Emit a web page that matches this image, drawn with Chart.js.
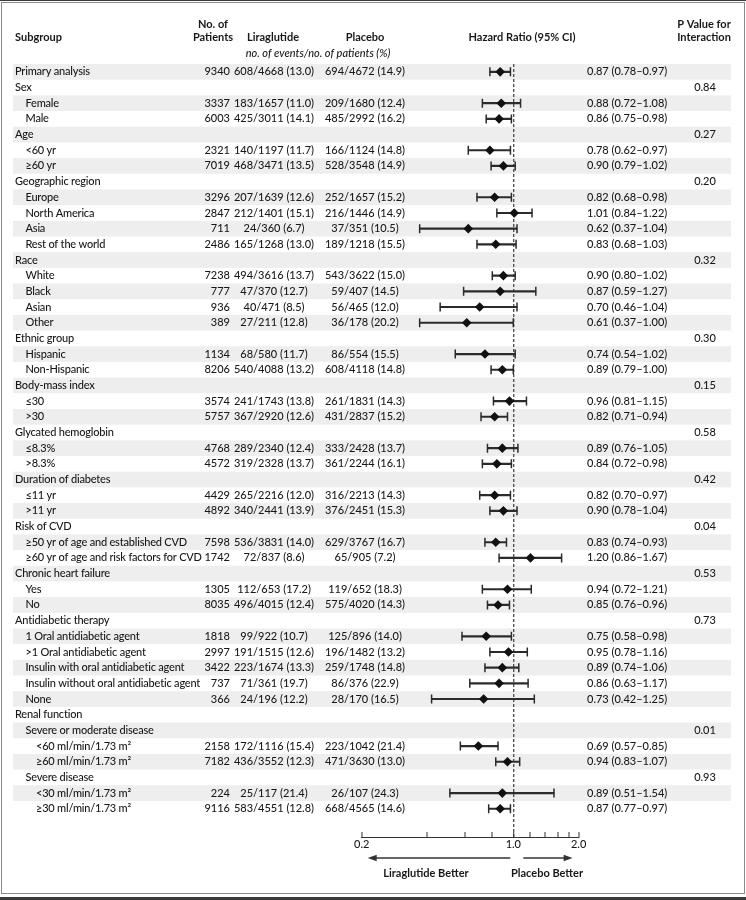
<!DOCTYPE html>
<html>
<head>
<meta charset="utf-8">
<title>Liraglutide vs placebo: subgroup hazard ratios</title>
<script src="https://cdn.jsdelivr.net/npm/chart.js@4.4.1/dist/chart.umd.min.js"></script>
<style>
  html, body { margin: 0; padding: 0; background: #fff; }
  canvas { display: block; }
</style>
</head>
<body>
<canvas id="forest" width="746" height="900"></canvas>
<script>
// rows of the table, top to bottom
const subgroups = [
  "Primary analysis", "Sex", "Female", "Male", "Age", "<60 yr", "≥60 yr",
  "Geographic region", "Europe", "North America", "Asia", "Rest of the world",
  "Race", "White", "Black", "Asian", "Other",
  "Ethnic group", "Hispanic", "Non-Hispanic",
  "Body-mass index", "≤30", ">30",
  "Glycated hemoglobin", "≤8.3%", ">8.3%",
  "Duration of diabetes", "≤11 yr", ">11 yr",
  "Risk of CVD", "≥50 yr of age and established CVD", "≥60 yr of age and risk factors for CVD",
  "Chronic heart failure", "Yes", "No",
  "Antidiabetic therapy", "1 Oral antidiabetic agent", ">1 Oral antidiabetic agent",
  "Insulin with oral antidiabetic agent", "Insulin without oral antidiabetic agent", "None",
  "Renal function", "Severe or moderate disease", "<60 ml/min/1.73 m²", "≥60 ml/min/1.73 m²",
  "Severe disease", "<30 ml/min/1.73 m²", "≥30 ml/min/1.73 m²"
];
const levels = [0, 0, 1, 1, 0, 1, 1, 0, 1, 1, 1, 1, 0, 1, 1, 1, 1, 0, 1, 1, 0, 1, 1, 0, 1, 1,
  0, 1, 1, 0, 1, 1, 0, 1, 1, 0, 1, 1, 1, 1, 1, 0, 1, 2, 2, 1, 2, 2];

const patients = [9340, null, 3337, 6003, null, 2321, 7019, null, 3296, 2847, 711, 2486, null,
  7238, 777, 936, 389, null, 1134, 8206, null, 3574, 5757, null, 4768, 4572, null, 4429, 4892,
  null, 7598, 1742, null, 1305, 8035, null, 1818, 2997, 3422, 737, 366, null, null, 2158, 7182,
  null, 224, 9116];

const liraEvents = [608, null, 183, 425, null, 140, 468, null, 207, 212, 24, 165, null, 494, 47,
  40, 27, null, 68, 540, null, 241, 367, null, 289, 319, null, 265, 340, null, 536, 72, null, 112,
  496, null, 99, 191, 223, 71, 24, null, null, 172, 436, null, 25, 583];
const liraTotal = [4668, null, 1657, 3011, null, 1197, 3471, null, 1639, 1401, 360, 1268, null,
  3616, 370, 471, 211, null, 580, 4088, null, 1743, 2920, null, 2340, 2328, null, 2216, 2441, null,
  3831, 837, null, 653, 4015, null, 922, 1515, 1674, 361, 196, null, null, 1116, 3552, null, 117, 4551];
const liraPct = [13.0, null, 11.0, 14.1, null, 11.7, 13.5, null, 12.6, 15.1, 6.7, 13.0, null, 13.7,
  12.7, 8.5, 12.8, null, 11.7, 13.2, null, 13.8, 12.6, null, 12.4, 13.7, null, 12.0, 13.9, null,
  14.0, 8.6, null, 17.2, 12.4, null, 10.7, 12.6, 13.3, 19.7, 12.2, null, null, 15.4, 12.3, null, 21.4, 12.8];

const placEvents = [694, null, 209, 485, null, 166, 528, null, 252, 216, 37, 189, null, 543, 59,
  56, 36, null, 86, 608, null, 261, 431, null, 333, 361, null, 316, 376, null, 629, 65, null, 119,
  575, null, 125, 196, 259, 86, 28, null, null, 223, 471, null, 26, 668];
const placTotal = [4672, null, 1680, 2992, null, 1124, 3548, null, 1657, 1446, 351, 1218, null,
  3622, 407, 465, 178, null, 554, 4118, null, 1831, 2837, null, 2428, 2244, null, 2213, 2451, null,
  3767, 905, null, 652, 4020, null, 896, 1482, 1748, 376, 170, null, null, 1042, 3630, null, 107, 4565];
const placPct = [14.9, null, 12.4, 16.2, null, 14.8, 14.9, null, 15.2, 14.9, 10.5, 15.5, null, 15.0,
  14.5, 12.0, 20.2, null, 15.5, 14.8, null, 14.3, 15.2, null, 13.7, 16.1, null, 14.3, 15.3, null,
  16.7, 7.2, null, 18.3, 14.3, null, 14.0, 13.2, 14.8, 22.9, 16.5, null, null, 21.4, 13.0, null, 24.3, 14.6];

const hazardRatio = [0.87, null, 0.88, 0.86, null, 0.78, 0.90, null, 0.82, 1.01, 0.62, 0.83, null,
  0.90, 0.87, 0.70, 0.61, null, 0.74, 0.89, null, 0.96, 0.82, null, 0.89, 0.84, null, 0.82, 0.90,
  null, 0.83, 1.20, null, 0.94, 0.85, null, 0.75, 0.95, 0.89, 0.86, 0.73, null, null, 0.69, 0.94,
  null, 0.89, 0.87];
const ciLow = [0.78, null, 0.72, 0.75, null, 0.62, 0.79, null, 0.68, 0.84, 0.37, 0.68, null, 0.80,
  0.59, 0.46, 0.37, null, 0.54, 0.79, null, 0.81, 0.71, null, 0.76, 0.72, null, 0.70, 0.78, null,
  0.74, 0.86, null, 0.72, 0.76, null, 0.58, 0.78, 0.74, 0.63, 0.42, null, null, 0.57, 0.83, null, 0.51, 0.77];
const ciHigh = [0.97, null, 1.08, 0.98, null, 0.97, 1.02, null, 0.98, 1.22, 1.04, 1.03, null, 1.02,
  1.27, 1.04, 1.00, null, 1.02, 1.00, null, 1.15, 0.94, null, 1.05, 0.98, null, 0.97, 1.04, null,
  0.93, 1.67, null, 1.21, 0.96, null, 0.98, 1.16, 1.06, 1.17, 1.25, null, null, 0.85, 1.07, null, 1.54, 0.97];

const pInteraction = [null, 0.84, null, null, 0.27, null, null, 0.20, null, null, null, null, 0.32,
  null, null, null, null, 0.30, null, null, 0.15, null, null, 0.58, null, null, 0.42, null, null,
  0.04, null, null, 0.53, null, null, 0.73, null, null, null, null, null, null, 0.01, null, null,
  0.93, null, null];

const axisTicks = [0.2, 0.4, 0.6, 0.8, 1.0, 1.2, 1.4, 1.6, 1.8, 2.0];
const labeledTicks = [0.2, 1.0, 2.0];

const INK = "#1a1718";
const FONT = "Lato, 'Open Sans', sans-serif";

const rows = subgroups.map((_, i) => i);
const plotted = rows.filter((i) => hazardRatio[i] != null);

const counts = (e, n, p, i) => (e[i] == null ? "" : `${e[i]}/${n[i]} (${p[i].toFixed(1)})`);

function arrow(ctx, from, to, y) {
  const dir = Math.sign(to - from);
  ctx.beginPath();
  ctx.moveTo(from, y);
  ctx.lineTo(to - dir * 5, y);
  ctx.stroke();
  ctx.beginPath();
  ctx.moveTo(to, y);
  ctx.lineTo(to - dir * 9, y - 3.2);
  ctx.lineTo(to - dir * 9, y + 3.2);
  ctx.closePath();
  ctx.fill();
}

const tablePlugin = {
  id: "table",
  beforeDraw(chart) {
    const { ctx, scales: { y } } = chart;
    ctx.save();
    ctx.fillStyle = "#fff";
    ctx.fillRect(0, 0, chart.width, chart.height);
    ctx.fillStyle = "#eeeeee";
    rows.filter((i) => i % 2 === 0).forEach((i) => {
      const top = y.getPixelForValue(i - 0.5);
      const bottom = y.getPixelForValue(i + 0.5);
      ctx.fillRect(13, top, 718, bottom - top);
    });
    ctx.restore();
  },
  afterDraw(chart) {
    const { ctx, scales: { x, y } } = chart;
    ctx.save();
    ctx.fillStyle = INK;
    ctx.textBaseline = "middle";

    // header
    ctx.font = `bold 11px ${FONT}`;
    ctx.textAlign = "left";
    ctx.fillText("Subgroup", 15, 37);
    ctx.textAlign = "center";
    ctx.fillText("No. of", 213, 24);
    ctx.fillText("Patients", 213, 37);
    ctx.fillText("Liraglutide", 273, 37);
    ctx.fillText("Placebo", 365, 37);
    ctx.fillText("Hazard Ratio (95% CI)", 522, 37);
    ctx.fillText("P Value for", 704, 24);
    ctx.fillText("Interaction", 704, 37);
    ctx.font = `italic 500 11px ${FONT}`;
    ctx.fillText("no. of events/no. of patients (%)", 318, 53);

    // body
    ctx.font = `500 11px ${FONT}`;
    rows.forEach((i) => {
      const py = y.getPixelForValue(i);
      ctx.textAlign = "left";
      ctx.letterSpacing = "-0.2px";
      ctx.fillText(subgroups[i], 15 + levels[i] * 10.5, py);
      ctx.letterSpacing = "0px";
      if (patients[i] != null) {
        ctx.textAlign = "right";
        ctx.fillText(String(patients[i]), 230, py);
      }
      ctx.textAlign = "center";
      ctx.fillText(counts(liraEvents, liraTotal, liraPct, i), 274, py);
      ctx.fillText(counts(placEvents, placTotal, placPct, i), 365, py);
      if (hazardRatio[i] != null) {
        ctx.textAlign = "left";
        ctx.fillText(`${hazardRatio[i].toFixed(2)} (${ciLow[i].toFixed(2)}–${ciHigh[i].toFixed(2)})`, 587, py);
      }
      if (pInteraction[i] != null) {
        ctx.textAlign = "center";
        ctx.fillText(pInteraction[i].toFixed(2), 705, py);
      }
    });

    // direction arrows under the axis
    const x02 = x.getPixelForValue(0.2);
    const x1 = x.getPixelForValue(1);
    const x2 = x.getPixelForValue(2);
    ctx.strokeStyle = "#333";
    ctx.fillStyle = "#333";
    ctx.lineWidth = 1.3;
    arrow(ctx, x1 - 3, x02 + 6, 858);
    arrow(ctx, x1 + 10, x2 - 6, 858);
    ctx.fillStyle = INK;
    ctx.font = `bold 11px ${FONT}`;
    ctx.textAlign = "center";
    ctx.fillText("Liraglutide Better", 426, 873);
    ctx.fillText("Placebo Better", 547, 873);

    // frame
    ctx.strokeStyle = "#8c8c8c";
    ctx.lineWidth = 1;
    ctx.strokeRect(1.5, 2.5, 743, 891);
    ctx.fillStyle = "#3a3a3a";
    ctx.fillRect(0, 0, 746, 1);
    ctx.fillRect(0, 897, 746, 3);
    ctx.restore();
  }
};

new Chart(document.querySelector("#forest"), {
  type: "scatter",
  data: {
    datasets: [
      {
        type: "bar",
        indexAxis: "y",
        data: plotted.map((i) => ({ x: [ciLow[i], ciHigh[i]], y: i })),
        backgroundColor: "#2b2b2b",
        barThickness: 1.5,
        borderWidth: 0,
        order: 3
      },
      {
        data: plotted.flatMap((i) => [{ x: ciLow[i], y: i }, { x: ciHigh[i], y: i }]),
        pointStyle: "line",
        pointRotation: 90,
        pointRadius: 4.5,
        pointBorderColor: "#2b2b2b",
        pointBorderWidth: 1.5,
        order: 2
      },
      {
        data: plotted.map((i) => ({ x: hazardRatio[i], y: i })),
        pointStyle: "rectRot",
        pointRadius: 4.8,
        pointBackgroundColor: "#111",
        pointBorderWidth: 0,
        order: 1
      }
    ]
  },
  options: {
    responsive: false,
    animation: false,
    events: [],
    layout: { padding: { left: 361.7, right: 167.4, top: 64, bottom: 0 } },
    plugins: { legend: { display: false }, tooltip: { enabled: false } },
    scales: {
      x: {
        type: "logarithmic",
        min: 0.2,
        max: 2.0,
        afterBuildTicks: (scale) => { scale.ticks = axisTicks.map((value) => ({ value })); },
        afterFit: (scale) => { scale.height = 63; },
        ticks: {
          autoSkip: false,
          maxRotation: 0,
          padding: 6,
          color: INK,
          font: { family: FONT, size: 11, weight: "500" },
          callback: (value) => (labeledTicks.includes(value) ? value.toFixed(1) : "")
        },
        grid: {
          drawOnChartArea: true,
          drawTicks: true,
          tickLength: -5,
          tickWidth: 1,
          tickColor: "#333",
          color: (c) => (c.tick && c.tick.value === 1 ? "#555" : "rgba(0,0,0,0)"),
          lineWidth: (c) => (c.tick && c.tick.value === 1 ? 1.4 : 0)
        },
        border: { display: true, color: "#333", width: 1, dash: [3, 2] }
      },
      y: { type: "linear", display: false, offset: false, reverse: true, min: -0.5, max: 48.8 }
    }
  },
  plugins: [tablePlugin]
});
</script>
</body>
</html>
